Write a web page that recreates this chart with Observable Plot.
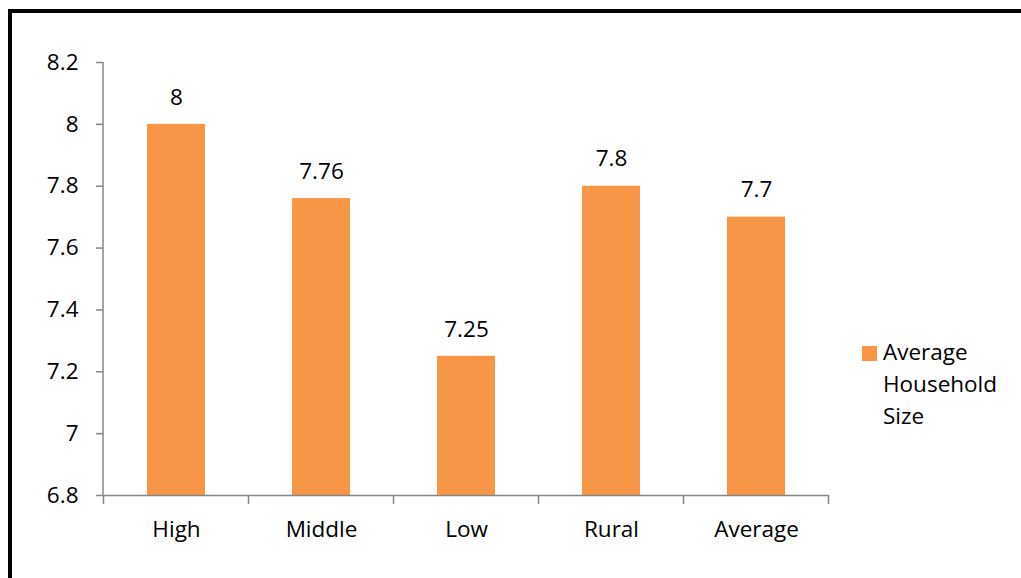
<!DOCTYPE html>
<html>
<head>
<meta charset="utf-8">
<script src="https://cdn.jsdelivr.net/npm/d3@7"></script>
<script src="https://cdn.jsdelivr.net/npm/@observablehq/plot@0.6"></script>
<style>
  html, body { margin: 0; padding: 0; background: #fff; overflow: hidden; }
  body { width: 1021px; height: 578px; position: relative; font-family: "Open Sans", sans-serif; }
  #frame { position: absolute; left: 8px; top: 9px; width: 1100px; height: 700px;
           border-left: 4px solid #000; border-top: 4px solid #000; box-sizing: border-box; }
  #chart { position: absolute; left: 0; top: 0; }
  #legend { position: absolute; left: 862px; top: 336px; font-size: 22.5px; line-height: 32px; color: #000; }
  #legend .sw { position: absolute; left: 0; top: 10px; width: 15px; height: 15px; background: #F79646; }
  #legend .txt { margin-left: 21px; }
</style>
</head>
<body>
<div id="frame"></div>
<div id="chart"></div>
<div id="legend"><span class="sw"></span><div class="txt">Average<br>Household<br>Size</div></div>
<script>
// Average household size by group
const categories = ["High", "Middle", "Low", "Rural", "Average"];
const householdSize = [8, 7.76, 7.25, 7.8, 7.7];
const yTicks = [6.8, 7, 7.2, 7.4, 7.6, 7.8, 8, 8.2];

const rows = categories.map((c, i) => ({group: c, size: householdSize[i]}));
const axisColor = "#868686";
const fontPx = 22.5;

// Vertical axis line plus category boundary ticks under the x axis, placed from the band scale
const axisLines = (index, scales, values, dimensions) => {
  const x = scales.x;
  const half = (x.step() - x.bandwidth()) / 2;
  const dom = x.domain();
  const edges = dom.map(d => x(d) - half);
  edges.push(x(dom[dom.length - 1]) + x.bandwidth() + half);
  const y0 = dimensions.height - dimensions.marginBottom;
  const g = d3.create("svg:g").attr("stroke", axisColor).attr("stroke-width", 1.5);
  g.append("line")
    .attr("x1", dimensions.marginLeft).attr("x2", dimensions.marginLeft)
    .attr("y1", dimensions.marginTop).attr("y2", y0);
  g.selectAll(".edge").data(edges).join("line").attr("class", "edge")
    .attr("x1", d => d).attr("x2", d => d)
    .attr("y1", y0).attr("y2", y0 + 9);
  return g.node();
};

const chart = Plot.plot({
  width: 1021,
  height: 578,
  marginLeft: 103,
  marginRight: 193,
  marginTop: 62,
  marginBottom: 83,
  style: {fontFamily: "Open Sans, sans-serif", fontSize: fontPx + "px", color: "#000", background: "transparent"},
  x: {domain: categories, paddingInner: 0.6, paddingOuter: 0.3, label: null},
  y: {domain: [6.8, 8.2], label: null},
  marks: [
    Plot.barY(rows, {x: "group", y1: 6.8, y2: "size", fill: "#F79646"}),
    Plot.text(rows, {x: "group", y: "size", text: d => String(d.size), dy: -27,
                     fontSize: fontPx, fill: "#000"}),
    Plot.axisY({ticks: yTicks, tickFormat: d => String(+d.toFixed(1)), tickSize: 7,
                tickPadding: 18, stroke: axisColor, strokeWidth: 1.5, strokeOpacity: 1,
                fontSize: fontPx, label: null}),
    Plot.ruleY([6.8], {stroke: axisColor, strokeWidth: 1.5}),
    Plot.axisX({tickSize: 0, tickPadding: 26, fontSize: fontPx, label: null}),
    axisLines
  ]
});
document.getElementById("chart").append(chart);
</script>
</body>
</html>
